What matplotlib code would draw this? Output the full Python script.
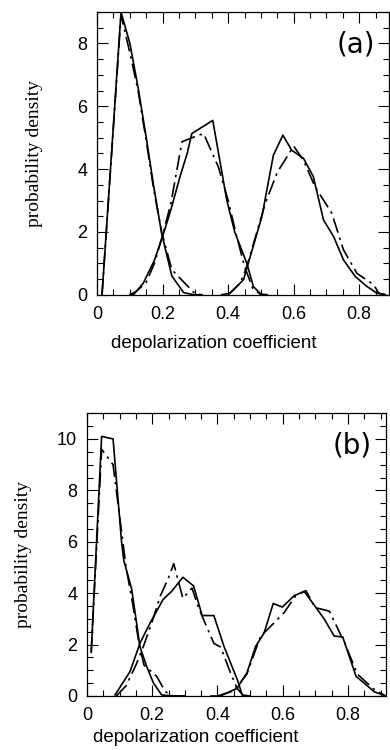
import numpy as np
import matplotlib
matplotlib.use("Agg")
from matplotlib import pyplot as plt
from matplotlib.ticker import MultipleLocator

# painel (a): tres distribuicoes, simulacao (solida) e teoria (traco-ponto)
a1_x = [0.015, 0.073, 0.100, 0.125, 0.150, 0.172, 0.197, 0.228, 0.264, 0.294, 0.32]
a1_y = [0.0, 9.0, 8.0, 6.6, 5.0, 3.5, 1.95, 0.6, 0.07, 0.0, 0.0]
a1d_x = [0.015, 0.073, 0.100, 0.125, 0.150, 0.172, 0.197, 0.228, 0.274, 0.300, 0.32]
a1d_y = [0.0, 8.9, 7.7, 6.5, 4.9, 3.4, 2.0, 0.8, 0.3, 0.02, 0.0]

a2_x = [0.100, 0.111, 0.141, 0.175, 0.203, 0.225, 0.253, 0.275, 0.289, 0.353, 0.396, 0.420, 0.457, 0.477, 0.500, 0.52]
a2_y = [0.0, 0.0, 0.37, 1.1, 1.96, 2.7, 3.76, 4.5, 5.13, 5.55, 3.0, 2.0, 1.0, 0.26, 0.02, 0.0]
a2d_x = [0.100, 0.118, 0.135, 0.150, 0.175, 0.200, 0.225, 0.259, 0.290, 0.325, 0.370, 0.400, 0.425, 0.450, 0.475, 0.500]
a2d_y = [0.0, 0.1, 0.25, 0.4, 1.0, 1.9, 2.9, 4.87, 5.0, 5.13, 4.07, 3.0, 1.9, 0.9, 0.2, 0.0]

a3_x = [0.380, 0.406, 0.447, 0.467, 0.503, 0.538, 0.567, 0.594, 0.630, 0.660, 0.691, 0.722, 0.752, 0.788, 0.823, 0.854, 0.88]
a3_y = [0.0, 0.05, 0.48, 1.2, 2.49, 4.44, 5.08, 4.6, 4.34, 3.76, 2.38, 1.85, 1.11, 0.58, 0.27, 0.05, 0.0]
a3d_x = [0.400, 0.437, 0.457, 0.485, 0.513, 0.550, 0.600, 0.630, 0.665, 0.716, 0.752, 0.793, 0.844, 0.860, 0.88]
a3d_y = [0.0, 0.37, 0.9, 1.9, 2.9, 3.9, 4.73, 4.28, 3.44, 2.6, 1.43, 0.68, 0.32, 0.05, 0.0]

# painel (b)
b1_x = [0.013, 0.045, 0.080, 0.106, 0.113, 0.137, 0.152, 0.162, 0.183, 0.204, 0.229, 0.265, 0.30]
b1_y = [1.7, 10.1, 10.0, 6.0, 5.27, 4.16, 2.85, 1.93, 1.15, 0.5, 0.04, 0.0, 0.0]
b1d_x = [0.013, 0.045, 0.080, 0.100, 0.120, 0.140, 0.160, 0.175, 0.214, 0.240, 0.265, 0.30]
b1d_y = [1.7, 9.6, 9.0, 7.0, 5.0, 3.6, 2.0, 1.2, 0.76, 0.17, 0.0, 0.0]

b2_x = [0.086, 0.132, 0.163, 0.194, 0.233, 0.260, 0.294, 0.327, 0.353, 0.389, 0.420, 0.461, 0.476, 0.50]
b2_y = [0.04, 0.95, 2.07, 2.85, 3.75, 4.08, 4.62, 4.28, 3.13, 3.13, 1.93, 0.63, 0.04, 0.0]
b2d_x = [0.090, 0.120, 0.150, 0.175, 0.200, 0.225, 0.250, 0.266, 0.294, 0.322, 0.340, 0.360, 0.389, 0.410, 0.440, 0.460, 0.480]
b2d_y = [0.0, 0.4, 1.2, 2.0, 2.9, 3.9, 4.6, 5.15, 3.8, 4.2, 3.5, 2.9, 2.05, 1.9, 0.9, 0.3, 0.0]

b3_x = [0.380, 0.409, 0.460, 0.490, 0.517, 0.543, 0.571, 0.599, 0.635, 0.666, 0.702, 0.727, 0.758, 0.784, 0.825, 0.850, 0.880, 0.916]
b3_y = [0.0, 0.0, 0.3, 0.89, 1.93, 2.45, 3.6, 3.46, 3.9, 4.07, 3.44, 3.0, 2.33, 2.3, 0.76, 0.5, 0.17, 0.0]
b3d_x = [0.400, 0.450, 0.490, 0.532, 0.570, 0.604, 0.640, 0.671, 0.700, 0.743, 0.790, 0.829, 0.880, 0.916]
b3d_y = [0.0, 0.2, 0.85, 2.32, 2.8, 3.24, 3.9, 4.1, 3.44, 3.3, 2.06, 0.85, 0.26, 0.0]

xticks = [0, 0.2, 0.4, 0.6, 0.8]
xtick_labels = ["0", "0.2", "0.4", "0.6", "0.8"]

sans = "Liberation Sans"
serif = "Liberation Serif"
dashdot = (0, (9, 3, 1.5, 3))

fig = plt.figure(figsize=(3.9, 7.5), dpi=100)


def painel(rect, curvas, xmax, ymax, rotulo, ylab_pos, xlab_pos):
    ax = fig.add_axes(rect)
    for x, y, d in curvas:
        ax.plot(x, y, color="black", lw=1.2, ls=dashdot if d else "-")
    ax.set_xlim(0, xmax)
    ax.set_ylim(0, ymax)
    ax.set_xticks(xticks)
    ax.set_xticklabels(xtick_labels, fontfamily=sans, fontsize=13)
    ax.xaxis.set_minor_locator(MultipleLocator(0.05))
    ax.yaxis.set_major_locator(MultipleLocator(2))
    ax.yaxis.set_minor_locator(MultipleLocator(0.5))
    for t in ax.get_yticklabels():
        t.set_fontfamily(sans)
        t.set_fontsize(13)
    ax.tick_params(which="both", direction="in", top=True, right=True, width=0.8)
    ax.tick_params(which="major", length=8, pad=7)
    ax.tick_params(which="minor", length=4)
    ax.tick_params(axis="x", which="major", pad=8)
    ax.set_xlabel("depolarization coefficient", fontfamily=sans, fontsize=13.5)
    ax.xaxis.set_label_coords(*xlab_pos)
    ax.set_ylabel("probability density", fontfamily=serif, fontsize=14)
    ax.yaxis.set_label_coords(*ylab_pos)
    ax.text(0.885, 0.885, rotulo, transform=ax.transAxes, ha="center", va="center",
            fontfamily="DejaVu Sans", fontsize=20)
    for s in ax.spines.values():
        s.set_linewidth(0.9)
    return ax


painel([0.249, 0.607, 0.749, 0.377],
       [(a1_x, a1_y, False), (a1d_x, a1d_y, True),
        (a2_x, a2_y, False), (a2d_x, a2d_y, True),
        (a3_x, a3_y, False), (a3d_x, a3d_y, True)],
       0.8916, 9, "(a)", (-0.185, 0.5), (0.40, -0.141))

painel([0.223, 0.072, 0.767, 0.377],
       [(b1_x, b1_y, False), (b1d_x, b1d_y, True),
        (b2_x, b2_y, False), (b2d_x, b2d_y, True),
        (b3_x, b3_y, False), (b3d_x, b3d_y, True)],
       0.917, 11, "(b)", (-0.184, 0.5), (0.365, -0.118))

fig.savefig("out.png", dpi=100)
